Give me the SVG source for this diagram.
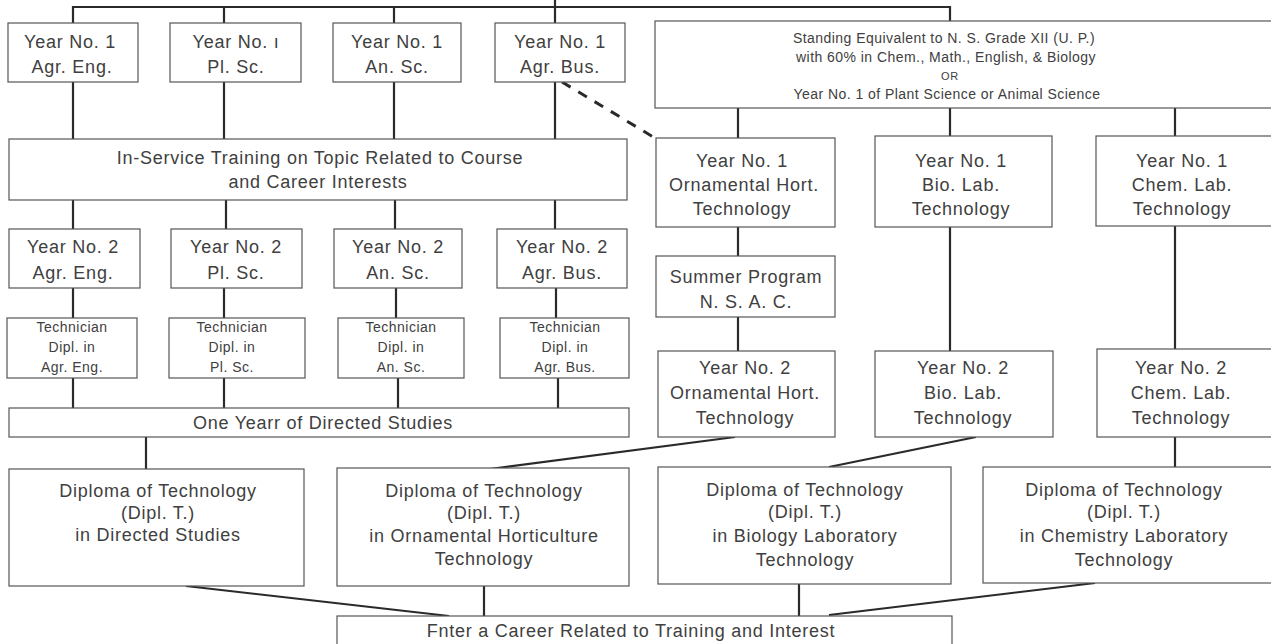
<svg xmlns="http://www.w3.org/2000/svg" width="1271" height="644" viewBox="0 0 1271 644">
<style>
.box{fill:#fff;stroke:#555;stroke-width:1.2}
.t{font-family:"Liberation Sans",Arial,sans-serif;fill:#404040;text-anchor:middle;font-size:18px;letter-spacing:0.75px}
.s{font-size:14px;letter-spacing:0.45px}
.xs{font-size:11px}
.m{font-size:14px;letter-spacing:0.5px}
.c{stroke:#2a2a2a;stroke-width:2.2;fill:none}
.d{stroke:#2a2a2a;stroke-width:3;fill:none;stroke-dasharray:10 9}
</style>
<rect width="1271" height="644" fill="#fff"/>
<g id="connectors">
<polyline class="c" points="73,23 73,7 950,7 950,21"/>
<line class="c" x1="224" y1="7" x2="224" y2="23"/>
<line class="c" x1="394" y1="7" x2="394" y2="23"/>
<line class="c" x1="555" y1="0" x2="555" y2="23"/>
<line class="c" x1="73" y1="82" x2="73" y2="139"/>
<line class="c" x1="224" y1="82" x2="224" y2="139"/>
<line class="c" x1="394" y1="82" x2="394" y2="139"/>
<line class="c" x1="555" y1="82" x2="555" y2="139"/>
<line class="d" x1="562" y1="82" x2="655" y2="138"/>
<line class="c" x1="73" y1="200" x2="73" y2="229"/>
<line class="c" x1="226" y1="200" x2="226" y2="229"/>
<line class="c" x1="395" y1="200" x2="395" y2="229"/>
<line class="c" x1="555" y1="200" x2="555" y2="229"/>
<line class="c" x1="73" y1="288" x2="73" y2="318"/>
<line class="c" x1="224" y1="288" x2="224" y2="318"/>
<line class="c" x1="396" y1="288" x2="396" y2="318"/>
<line class="c" x1="556" y1="288" x2="556" y2="318"/>
<line class="c" x1="73" y1="378" x2="73" y2="408"/>
<line class="c" x1="224" y1="378" x2="224" y2="408"/>
<line class="c" x1="398" y1="378" x2="398" y2="408"/>
<line class="c" x1="558" y1="378" x2="558" y2="408"/>
<line class="c" x1="146" y1="437" x2="146" y2="469"/>
<line class="c" x1="738" y1="108" x2="738" y2="138"/>
<line class="c" x1="950" y1="108" x2="950" y2="136"/>
<line class="c" x1="1175" y1="108" x2="1175" y2="136"/>
<line class="c" x1="738" y1="227" x2="738" y2="256"/>
<line class="c" x1="738" y1="317" x2="738" y2="351"/>
<line class="c" x1="950" y1="227" x2="950" y2="351"/>
<line class="c" x1="1175" y1="226" x2="1175" y2="349"/>
<line class="c" x1="735" y1="437" x2="490" y2="469"/>
<line class="c" x1="976" y1="437" x2="829" y2="467"/>
<line class="c" x1="1175" y1="437" x2="1175" y2="467"/>
<line class="c" x1="186" y1="586" x2="449" y2="616"/>
<line class="c" x1="484" y1="586" x2="484" y2="616"/>
<line class="c" x1="799" y1="584" x2="799" y2="616"/>
<line class="c" x1="1095" y1="583" x2="829" y2="615"/>
</g>
<g id="y1-agreng"><rect class="box" x="8" y="23" width="130" height="59"/><text class="t" x="70" y="48">Year No. 1</text><text class="t" x="72" y="73">Agr. Eng.</text></g>
<g id="y1-plsc"><rect class="box" x="170" y="23" width="131" height="59"/><text class="t" x="236" y="48">Year No. ı</text><text class="t" x="236" y="73">Pl. Sc.</text></g>
<g id="y1-ansc"><rect class="box" x="333" y="23" width="128" height="59"/><text class="t" x="397" y="48">Year No. 1</text><text class="t" x="397" y="73">An. Sc.</text></g>
<g id="y1-agrbus"><rect class="box" x="495" y="23" width="130" height="59"/><text class="t" x="560" y="48">Year No. 1</text><text class="t" x="560" y="73">Agr. Bus.</text></g>
<g id="standing"><rect class="box" x="655" y="21" width="640" height="87"/>
<text class="t s" x="944" y="43">Standing Equivalent to N. S. Grade XII (U. P.)</text>
<text class="t s" x="946" y="62">with 60% in Chem., Math., English, &amp; Biology</text>
<text class="t xs" x="950" y="80">OR</text>
<text class="t s" x="947" y="99">Year No. 1 of Plant Science or Animal Science</text></g>
<g id="inservice"><rect class="box" x="9" y="139" width="618" height="61"/><text class="t" x="320" y="164">In-Service Training on Topic Related to Course</text><text class="t" x="318" y="188">and Career Interests</text></g>
<g id="y2-agreng"><rect class="box" x="9" y="229" width="131" height="59"/><text class="t" x="73" y="253">Year No. 2</text><text class="t" x="73" y="279">Agr. Eng.</text></g>
<g id="y2-plsc"><rect class="box" x="171" y="229" width="131" height="59"/><text class="t" x="236" y="253">Year No. 2</text><text class="t" x="236" y="279">Pl. Sc.</text></g>
<g id="y2-ansc"><rect class="box" x="334" y="229" width="128" height="59"/><text class="t" x="398" y="253">Year No. 2</text><text class="t" x="398" y="279">An. Sc.</text></g>
<g id="y2-agrbus"><rect class="box" x="497" y="229" width="130" height="59"/><text class="t" x="562" y="253">Year No. 2</text><text class="t" x="562" y="279">Agr. Bus.</text></g>
<g id="tech-agreng"><rect class="box" x="7" y="318" width="130" height="60"/><text class="t m" x="72" y="332">Technician</text><text class="t m" x="72" y="352">Dipl. in</text><text class="t m" x="72" y="372">Agr. Eng.</text></g>
<g id="tech-plsc"><rect class="box" x="169" y="318" width="136" height="60"/><text class="t m" x="232" y="332">Technician</text><text class="t m" x="232" y="352">Dipl. in</text><text class="t m" x="232" y="372">Pl. Sc.</text></g>
<g id="tech-ansc"><rect class="box" x="338" y="318" width="126" height="60"/><text class="t m" x="401" y="332">Technician</text><text class="t m" x="401" y="352">Dipl. in</text><text class="t m" x="401" y="372">An. Sc.</text></g>
<g id="tech-agrbus"><rect class="box" x="500" y="318" width="129" height="60"/><text class="t m" x="565" y="332">Technician</text><text class="t m" x="565" y="352">Dipl. in</text><text class="t m" x="565" y="372">Agr. Bus.</text></g>
<g id="directed"><rect class="box" x="9" y="408" width="620" height="29"/><text class="t" x="323" y="429">One Yearr of Directed Studies</text></g>
<g id="y1-orn"><rect class="box" x="656" y="138" width="179" height="89"/><text class="t" x="742" y="167">Year No. 1</text><text class="t" x="744" y="191">Ornamental Hort.</text><text class="t" x="742" y="215">Technology</text></g>
<g id="y1-bio"><rect class="box" x="875" y="136" width="177" height="91"/><text class="t" x="961" y="167">Year No. 1</text><text class="t" x="961" y="191">Bio. Lab.</text><text class="t" x="961" y="215">Technology</text></g>
<g id="y1-chem"><rect class="box" x="1096" y="136" width="200" height="90"/><text class="t" x="1182" y="167">Year No. 1</text><text class="t" x="1182" y="191">Chem. Lab.</text><text class="t" x="1182" y="215">Technology</text></g>
<g id="summer"><rect class="box" x="656" y="256" width="179" height="61"/><text class="t" x="746" y="283">Summer Program</text><text class="t" x="746" y="308">N. S. A. C.</text></g>
<g id="y2-orn"><rect class="box" x="658" y="351" width="177" height="86"/><text class="t" x="745" y="374">Year No. 2</text><text class="t" x="745" y="399">Ornamental Hort.</text><text class="t" x="745" y="424">Technology</text></g>
<g id="y2-bio"><rect class="box" x="875" y="351" width="178" height="86"/><text class="t" x="963" y="374">Year No. 2</text><text class="t" x="963" y="399">Bio. Lab.</text><text class="t" x="963" y="424">Technology</text></g>
<g id="y2-chem"><rect class="box" x="1097" y="349" width="200" height="88"/><text class="t" x="1181" y="374">Year No. 2</text><text class="t" x="1181" y="399">Chem. Lab.</text><text class="t" x="1181" y="424">Technology</text></g>
<g id="dipl-directed"><rect class="box" x="9" y="469" width="295" height="117"/><text class="t" x="158" y="497">Diploma of Technology</text><text class="t" x="158" y="519">(Dipl. T.)</text><text class="t" x="158" y="541">in Directed Studies</text></g>
<g id="dipl-orn"><rect class="box" x="337" y="468" width="292" height="118"/><text class="t" x="484" y="497">Diploma of Technology</text><text class="t" x="484" y="519">(Dipl. T.)</text><text class="t" x="484" y="542">in Ornamental Horticulture</text><text class="t" x="484" y="565">Technology</text></g>
<g id="dipl-bio"><rect class="box" x="658" y="467" width="293" height="117"/><text class="t" x="805" y="496">Diploma of Technology</text><text class="t" x="805" y="518">(Dipl. T.)</text><text class="t" x="805" y="542">in Biology Laboratory</text><text class="t" x="805" y="566">Technology</text></g>
<g id="dipl-chem"><rect class="box" x="983" y="467" width="310" height="116"/><text class="t" x="1124" y="496">Diploma of Technology</text><text class="t" x="1124" y="518">(Dipl. T.)</text><text class="t" x="1124" y="542">in Chemistry Laboratory</text><text class="t" x="1124" y="566">Technology</text></g>
<g id="career"><rect class="box" x="337" y="616" width="615" height="40"/><text class="t" x="631" y="637">Fnter a Career Related to Training and Interest</text></g>
</svg>
